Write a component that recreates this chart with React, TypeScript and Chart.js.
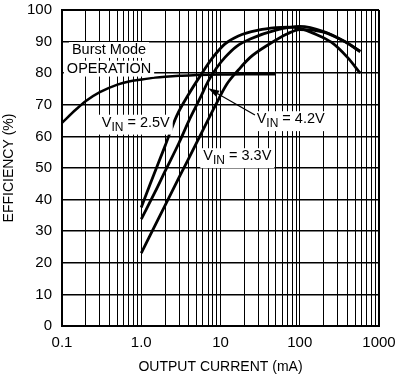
import React, { useEffect, useRef } from "react";
import { Chart, registerables } from "chart.js";

Chart.register(...registerables);

// ---- data (mA, %) ----
const burstCurrent = [0.1, 0.15, 0.2, 0.3, 0.5, 0.7, 1, 1.5, 2, 3, 5, 10, 20, 50];
const burstEff = [64.3, 68.5, 71.2, 74, 76.4, 77.4, 78, 78.6, 78.9, 79.2, 79.4, 79.6, 79.7, 79.7];

const vin25Current = [1, 1.3, 2, 2.8, 4, 5.5, 8, 11.4, 16.8, 30, 50, 70, 100, 150, 250, 400, 580];
const vin25Eff = [37.5, 45, 57, 66.5, 73.5, 79, 85, 89.3, 91.8, 93.6, 94.4, 94.6, 94.2, 92.6, 89.8, 85, 80];

const vin42Current = [1, 1.5, 2, 3, 4, 5.5, 7, 9, 11.4, 16, 23.7, 50, 100, 200, 370, 580];
const vin42Eff = [33.8, 42.5, 49, 58, 65, 72, 77.5, 81.8, 85, 88.5, 90.8, 93.6, 94.8, 93.2, 90, 86.8];

const vin33Current = [1, 2, 3, 5, 8.5, 12, 16.8, 23.7, 40, 70, 100, 200, 370, 580];
const vin33Eff = [23.1, 38.2, 47, 58, 69.5, 76.5, 81, 85, 89, 92.5, 93.8, 93, 90, 87];

const xDecades = [0.1, 1, 10, 100, 1000];
const xDecadeLabels = ["0.1", "1.0", "10", "100", "1000"];
const yTickStep = 10;

const xTitle = "OUTPUT CURRENT (mA)";
const yTitle = "EFFICIENCY (%)";

const FONT = "'Liberation Sans', Arial, sans-serif";
const TICK_FS = 15;
const TITLE_FS = 14;
const FS = 14.5;

// annotation texts (positions in data units)
const textNotes = [
  { parts: [["Burst Mode", 0]], x: 0.392, y: 86.1, align: "center" },
  { parts: [["OPERATION", 0]], x: 0.392, y: 80.2, align: "center" },
  { parts: [["V", 0], ["IN", 1], [" = 2.5V", 0]], x: 0.317, y: 63.1, align: "left" },
  { parts: [["V", 0], ["IN", 1], [" = 4.2V", 0]], x: 28.6, y: 64.2, align: "left" },
  { parts: [["V", 0], ["IN", 1], [" = 3.3V", 0]], x: 6.07, y: 52.5, align: "left" },
];
const arrowNote = { from: [27.2, 66.8], to: [7.0, 75.2] };

function buildGridValues(): number[] {
  const vals: number[] = [];
  for (let d = 0; d < xDecades.length - 1; d++) {
    for (let m = 1; m < 10; m++) vals.push(+(xDecades[d] * m).toPrecision(6));
  }
  vals.push(xDecades[xDecades.length - 1]);
  return vals;
}

const annotPlugin = {
  id: "annot",
  afterDatasetsDraw(chart: any) {
    const { ctx } = chart;
    const xs = chart.scales.x;
    const ys = chart.scales.y;
    ctx.save();
    ctx.textBaseline = "alphabetic";
    for (const n of textNotes) {
      const px = xs.getPixelForValue(n.x);
      const py = ys.getPixelForValue(n.y);
      let w = 0;
      const widths: number[] = [];
      for (const [t, sub] of n.parts as any) {
        ctx.font = `${sub ? FS - 2.5 : FS}px ${FONT}`;
        const mw = ctx.measureText(t).width;
        widths.push(mw);
        w += mw;
      }
      const left = n.align === "center" ? px - w / 2 : px;
      ctx.fillStyle = "#fff";
      ctx.fillRect(left - 3, py - FS * 0.82, w + 6, FS * 0.82 + (n.parts.length > 1 ? 8 : 4));
      ctx.fillStyle = "#000";
      let cx = left;
      (n.parts as any).forEach(([t, sub]: any, i: number) => {
        ctx.font = `${sub ? FS - 2.5 : FS}px ${FONT}`;
        ctx.fillText(t, cx, sub ? py + 4 : py);
        cx += widths[i];
      });
    }
    // arrow
    const x1 = xs.getPixelForValue(arrowNote.from[0]);
    const y1 = ys.getPixelForValue(arrowNote.from[1]);
    const x2 = xs.getPixelForValue(arrowNote.to[0]);
    const y2 = ys.getPixelForValue(arrowNote.to[1]);
    const ang = Math.atan2(y2 - y1, x2 - x1);
    const hl = 11, hw = 3.5;
    const bx = x2 - hl * Math.cos(ang);
    const by = y2 - hl * Math.sin(ang);
    ctx.strokeStyle = "#000";
    ctx.lineWidth = 1.2;
    ctx.beginPath();
    ctx.moveTo(x1, y1);
    ctx.lineTo(bx, by);
    ctx.stroke();
    ctx.fillStyle = "#000";
    ctx.beginPath();
    ctx.moveTo(x2, y2);
    ctx.lineTo(bx + hw * Math.sin(ang), by - hw * Math.cos(ang));
    ctx.lineTo(bx - hw * Math.sin(ang), by + hw * Math.cos(ang));
    ctx.closePath();
    ctx.fill();
    ctx.restore();
  },
};

function series(xs: number[], ys: number[], width: number) {
  return {
    data: xs.map((x, i) => ({ x, y: ys[i] })),
    borderColor: "#000",
    backgroundColor: "#000",
    borderWidth: width,
    pointRadius: 0,
    fill: false,
    cubicInterpolationMode: "monotone" as const,
  };
}

function zeroPad(s: any) {
  s.paddingTop = 0;
  s.paddingBottom = 0;
  s.paddingLeft = 0;
  s.paddingRight = 0;
}

export default function App() {
  const ref = useRef<HTMLCanvasElement | null>(null);
  useEffect(() => {
    if (!ref.current) return;
    const gridVals = buildGridValues();
    const chart = new Chart(ref.current, {
      type: "line",
      data: {
        datasets: [
          series(burstCurrent, burstEff, 2.5),
          series(vin25Current, vin25Eff, 2.8),
          series(vin42Current, vin42Eff, 2.8),
          series(vin33Current, vin33Eff, 2.8),
        ] as any,
      },
      options: {
        responsive: false,
        animation: false,
        devicePixelRatio: 1,
        layout: { padding: { left: 1, right: 18, top: 10, bottom: 0 } },
        plugins: { legend: { display: false }, tooltip: { enabled: false } },
        scales: {
          x: {
            type: "logarithmic",
            min: xDecades[0],
            max: xDecades[xDecades.length - 1],
            afterBuildTicks: (s: any) => {
              s.ticks = gridVals.map((v) => ({ value: v }));
            },
            afterFit: (s: any) => {
              s.height = 51;
              zeroPad(s);
            },
            grid: {
              color: "#000",
              lineWidth: (c: any) => (c.tick && c.tick.value === 1000 ? 2 : 1),
              drawTicks: false,
            },
            border: { color: "#000", width: 2 },
            ticks: {
              autoSkip: false,
              maxRotation: 0,
              padding: 8,
              color: "#000",
              font: { family: FONT, size: TICK_FS },
              callback: (v: any) => {
                const i = xDecades.findIndex((d) => Math.abs(d - v) / d < 1e-6);
                return i >= 0 ? xDecadeLabels[i] : "";
              },
            },
            title: {
              display: true,
              text: xTitle,
              color: "#000",
              font: { family: FONT, size: TITLE_FS },
              padding: { top: 0, bottom: 1 },
            },
          },
          y: {
            min: 0,
            max: 100,
            afterFit: (s: any) => {
              s.width = 61;
              zeroPad(s);
            },
            grid: {
              color: "#000",
              lineWidth: (c: any) => (c.tick && c.tick.value === 100 ? 2 : 1.5),
              drawTicks: false,
            },
            border: { color: "#000", width: 2 },
            ticks: {
              stepSize: yTickStep,
              padding: 10,
              color: "#000",
              font: { family: FONT, size: TICK_FS },
            },
            title: {
              display: true,
              text: yTitle,
              color: "#000",
              font: { family: FONT, size: TITLE_FS },
              padding: { top: 0, bottom: 0 },
            },
          },
        },
      } as any,
      plugins: [annotPlugin],
    });
    return () => chart.destroy();
  }, []);
  return (
    <div style={{ position: "fixed", left: 0, top: 0, width: 397, height: 377, background: "#fff" }}>
      <canvas ref={ref} width={397} height={377} style={{ display: "block" }} />
    </div>
  );
}
